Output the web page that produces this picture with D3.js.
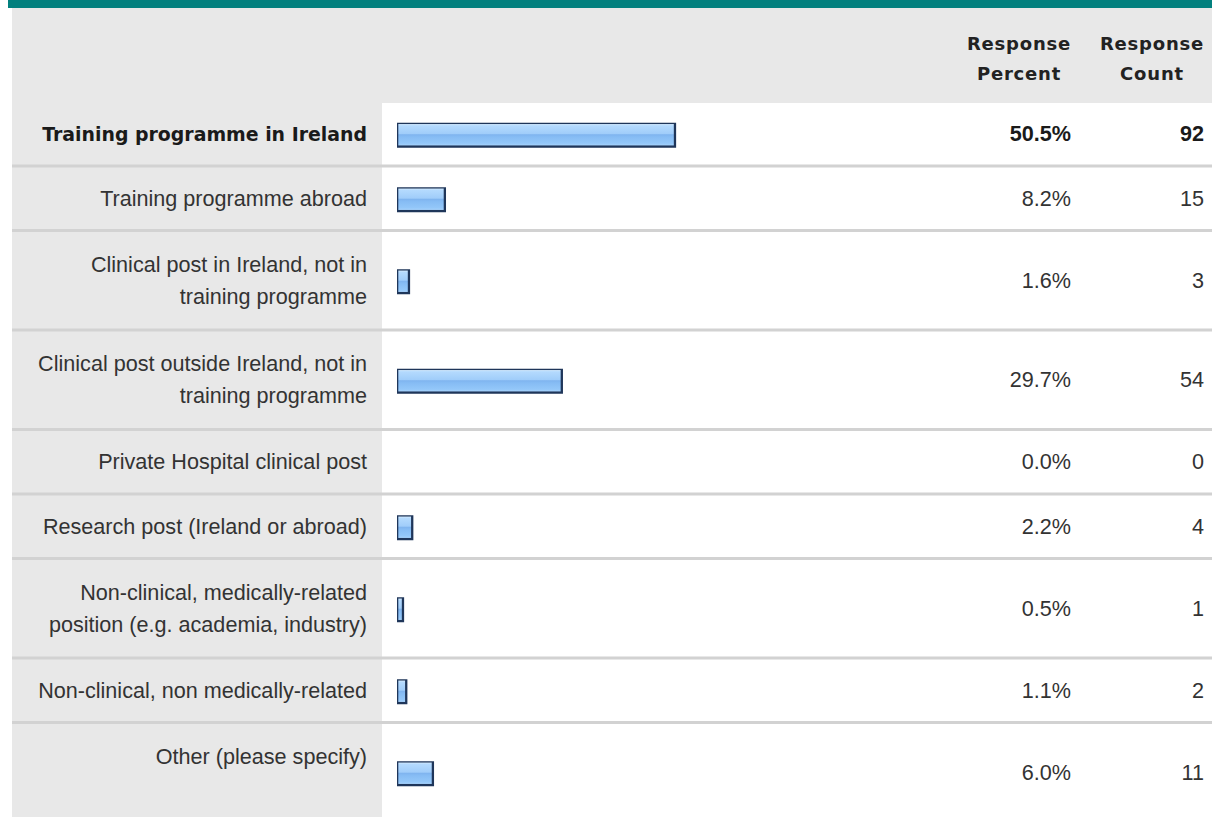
<!DOCTYPE html>
<html>
<head>
<meta charset="utf-8">
<script src="https://cdn.jsdelivr.net/npm/d3@7/dist/d3.min.js"></script>
<style>
  html, body { margin: 0; padding: 0; background: #ffffff; }
  svg { display: block; }
</style>
</head>
<body>
<div id="chart"></div>
<script>
// ---------------- data ----------------
const categories = [
  "Training programme in Ireland",
  "Training programme abroad",
  "Clinical post in Ireland, not in\ntraining programme",
  "Clinical post outside Ireland, not in\ntraining programme",
  "Private Hospital clinical post",
  "Research post (Ireland or abroad)",
  "Non-clinical, medically-related\nposition (e.g. academia, industry)",
  "Non-clinical, non medically-related",
  "Other (please specify)"
];
const percents = [50.5, 8.2, 1.6, 29.7, 0.0, 2.2, 0.5, 1.1, 6.0];
const counts = [92, 15, 3, 54, 0, 4, 1, 2, 11];
const headerPercent = ["Response", "Percent"];
const headerCount = ["Response", "Count"];

// ---------------- layout ----------------
const W = 1212, H = 817;
const left = 12, labelColRight = 382, labelRight = 367;
const headerTop = 8, headerBottom = 103;
const sepH = 3;
const oneLineH = 61.5, twoLineH = 96.5, lineGap = 32;
const barX = 397, barH = 25;
const pctRight = 1071, cntRight = 1204;
const pctCenter = 1019, cntCenter = 1152;
const otherIndex = categories.length - 1;

const svg = d3.select("#chart").append("svg")
  .attr("width", W).attr("height", H);

const defs = svg.append("defs");
const grad = defs.append("linearGradient")
  .attr("id", "barGrad").attr("x1", 0).attr("y1", 0).attr("x2", 0).attr("y2", 1);
[
  [0, "#d6ecff"], [0.08, "#b4dafe"], [0.45, "#a0cdfa"], [0.5, "#7fb4ef"],
  [0.6, "#86bcf4"], [0.9, "#93c7f9"], [1, "#a6d2fc"]
].forEach(([o, c]) => grad.append("stop").attr("offset", o).attr("stop-color", c));

// top teal band
svg.append("rect").attr("x", 8).attr("y", 0).attr("width", W - 8).attr("height", headerTop)
  .attr("fill", "#02807e");
// header grey
svg.append("rect").attr("x", left).attr("y", headerTop).attr("width", W - left)
  .attr("height", headerBottom - headerTop).attr("fill", "#e8e8e8");

// compute rows
const rows = [];
let y = headerBottom;
categories.forEach((c, i) => {
  const lines = c.split("\n");
  const nLines = (i === otherIndex) ? 2 : lines.length;
  const h = nLines > 1 ? twoLineH : oneLineH;
  rows.push({ i, label: c, lines, top: y, h, nLines, pct: percents[i], cnt: counts[i] });
  y += h + sepH;
});
const tableBottom = H;

// label column background
svg.append("rect").attr("x", left).attr("y", headerBottom)
  .attr("width", labelColRight - left).attr("height", tableBottom - headerBottom)
  .attr("fill", "#e8e8e8");

// separators
rows.slice(0, -1).forEach(r => {
  svg.append("rect").attr("x", left).attr("y", r.top + r.h)
    .attr("width", W - left).attr("height", sepH).attr("fill", "#d2d2d2");
});

// headers
const hdrFont = "'DejaVu Sans', Verdana, sans-serif";
[[headerPercent, pctCenter], [headerCount, cntCenter]].forEach(([lines, cx]) => {
  svg.append("text").attr("x", cx).attr("y", 49.5)
    .attr("text-anchor", "middle").attr("font-family", hdrFont).attr("font-weight", "bold")
    .attr("font-size", 18).attr("letter-spacing", 0.8).attr("fill", "#222").text(lines[0]);
  svg.append("text").attr("x", cx).attr("y", 80)
    .attr("text-anchor", "middle").attr("font-family", hdrFont).attr("font-weight", "bold")
    .attr("font-size", 18).attr("letter-spacing", 0.8).attr("fill", "#222").text(lines[1]);
});

// scale
const x = d3.scaleLinear().domain([0, 100]).range([0, 544]);
const maxIdx = d3.maxIndex(percents);
const bodyFont = "'Liberation Sans', Arial, sans-serif";
const fs = 21.6;

const g = svg.append("g");
rows.forEach(r => {
  const center = r.top + r.h / 2;
  const bold = r.i === maxIdx;
  // label
  if (bold) {
    g.append("text").attr("x", labelRight).attr("y", center + 7.5)
      .attr("text-anchor", "end").attr("font-family", hdrFont).attr("font-weight", "bold")
      .attr("font-size", 18.9).attr("fill", "#1a1a1a").text(r.lines[0]);
  } else {
    r.lines.forEach((ln, k) => {
      const off = r.nLines > 1 ? (k === 0 ? -lineGap / 2 : lineGap / 2) : 0;
      g.append("text").attr("x", labelRight).attr("y", center + off + 7.5)
        .attr("text-anchor", "end").attr("font-family", bodyFont)
        .attr("font-size", fs).attr("fill", "#333").text(ln);
    });
  }
  // bar
  if (r.pct > 0) {
    const bw = x(r.pct) + 4.4;
    const by = center + 1.5 - barH / 2;
    g.append("rect").attr("x", barX).attr("y", by).attr("width", bw).attr("height", barH)
      .attr("fill", "#1f365a");
    g.append("rect").attr("x", barX + 1.3).attr("y", by + 1.3)
      .attr("width", Math.max(bw - 3.6, 1)).attr("height", barH - 3.6)
      .attr("fill", "url(#barGrad)");
  }
  // values
  const vf = bold ? "bold" : "normal";
  g.append("text").attr("x", pctRight).attr("y", center + 7.5)
    .attr("text-anchor", "end").attr("font-family", bodyFont).attr("font-weight", vf)
    .attr("font-size", fs).attr("fill", bold ? "#1a1a1a" : "#333")
    .text(d3.format(".1f")(r.pct) + "%");
  g.append("text").attr("x", cntRight).attr("y", center + 7.5)
    .attr("text-anchor", "end").attr("font-family", bodyFont).attr("font-weight", vf)
    .attr("font-size", fs).attr("fill", bold ? "#1a1a1a" : "#333")
    .text(r.cnt);
});
</script>
</body>
</html>
